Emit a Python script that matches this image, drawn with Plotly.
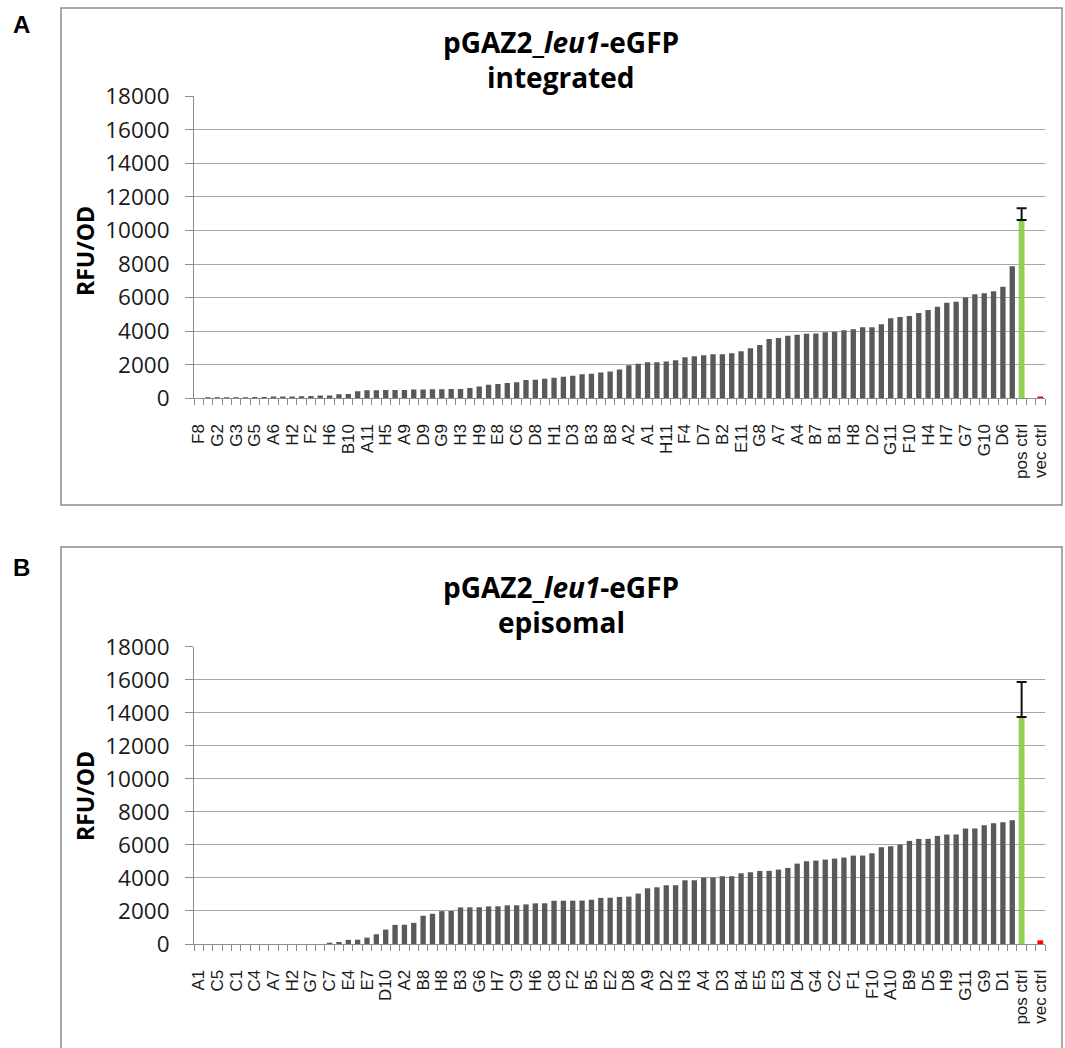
import plotly.graph_objects as go

W, H = 1065, 1048

# ---------------- data ----------------
a_labels = ["F8", "G2", "G3", "G5", "A6", "H2", "F2", "H6", "B10", "A11",
            "H5", "A9", "D9", "G9", "H3", "H9", "E8", "C6", "D8", "H1",
            "D3", "B3", "B8", "A2", "A1", "H11", "F4", "D7", "B2", "E11",
            "G8", "A7", "A4", "B7", "B1", "H8", "D2", "G11", "F10", "H4",
            "H7", "G7", "G10", "D6"]
b_labels = ["A1", "C5", "C1", "C4", "A7", "H2", "G7", "C7", "E4", "E7",
            "D10", "A2", "B8", "H8", "B3", "G6", "H7", "C9", "H6", "C8",
            "F2", "B5", "E2", "D8", "A9", "D2", "H3", "A4", "D3", "B4",
            "E5", "E3", "D4", "G4", "C2", "F1", "F10", "A10", "B9", "D5",
            "H9", "G11", "G9", "D1"]
ctrl_labels = ["pos ctrl", "vec ctrl"]

a_values = [-60, 60, 60, 70, 70, 70, 80, 80, 100, 110,
            110, 120, 130, 160, 170, 240, 250, 420, 480, 480,
            490, 490, 500, 520, 530, 540, 540, 550, 550, 620,
            700, 800, 850, 910, 950, 1090, 1100, 1170, 1230, 1290,
            1350, 1430, 1470, 1530, 1590, 1720, 1970, 2065, 2145, 2150,
            2200, 2264, 2440, 2500, 2560, 2620, 2625, 2680, 2800, 2980,
            3180, 3535, 3595, 3730, 3790, 3850, 3855, 3930, 3970, 4050,
            4110, 4230, 4235, 4410, 4770, 4850, 4900, 5080, 5260, 5460,
            5700, 5760, 6000, 6200, 6260, 6375, 6650, 7865]
b_values = [0, 0, 0, 0, 0, 0, 0, 0, 0, 0,
            0, 0, 0, 0, 60, 120, 250, 260, 385, 590,
            875, 1160, 1165, 1280, 1710, 1830, 1990, 2000, 2215, 2220,
            2225, 2275, 2280, 2340, 2345, 2400, 2460, 2465, 2620, 2620,
            2625, 2630, 2680, 2790, 2800, 2850, 2870, 3050, 3373, 3434,
            3555, 3560, 3858, 3860, 4020, 4025, 4100, 4105, 4282, 4343,
            4424, 4430, 4505, 4606, 4868, 5010, 5050, 5110, 5171, 5232,
            5353, 5355, 5494, 5858, 5919, 6020, 6242, 6363, 6365, 6545,
            6626, 6630, 6990, 6995, 7190, 7312, 7373, 7494]

a_pos_ctrl, a_pos_err, a_vec_ctrl = 10620, 700, 100
b_pos_ctrl, b_pos_err, b_vec_ctrl = 13740, 2120, 220

y_ticks = [0, 2000, 4000, 6000, 8000, 10000, 12000, 14000, 16000, 18000]
y_ticktext = ["0", "2000", "4000", "6000", "8000", "10000", "12000", "14000", "16000", "18000"]

# ---------------- styles ----------------
GRAY = "#595959"
GREEN = "#92D050"
RED = "#FF0000"
AX = "#8c8c8c"
GRID = "#a6a6a6"
TXT = "#1a1a1a"
FONT = "Open Sans"


def px(x):
    return x / W


def py(y):
    return 1 - y / H


fig = go.Figure()

panels = [
    dict(xa="x", ya="y", labels=a_labels, values=a_values, pos=a_pos_ctrl,
         err=a_pos_err, vec=a_vec_ctrl, y0=398.3, y1=96.2),
    dict(xa="x2", ya="y2", labels=b_labels, values=b_values, pos=b_pos_ctrl,
         err=b_pos_err, vec=b_vec_ctrl, y0=944.0, y1=646.7),
]

for k, p in enumerate(panels):
    n = len(p["values"])
    xs = list(range(n))
    pos_x = n
    vec_x = n + 2
    fig.add_trace(go.Bar(x=xs, y=p["values"], marker_color=GRAY, marker_line_width=0,
                         width=0.57, xaxis=p["xa"], yaxis=p["ya"], cliponaxis=False,
                         showlegend=False))
    fig.add_trace(go.Bar(x=[pos_x], y=[p["pos"]], marker_color=GREEN, marker_line_width=0,
                         width=0.62, xaxis=p["xa"], yaxis=p["ya"], showlegend=False,
                         error_y=dict(type="data", symmetric=False, array=[p["err"]],
                                      arrayminus=[0], color="#111", thickness=2, width=5)))
    fig.add_trace(go.Bar(x=[vec_x], y=[p["vec"]], marker_color=RED, marker_line_width=0,
                         width=0.62, xaxis=p["xa"], yaxis=p["ya"], showlegend=False))

    tickvals = list(range(0, n, 2)) + [pos_x, vec_x]
    ticktext = p["labels"] + ctrl_labels
    suffix = "" if k == 0 else "2"
    fig.update_layout(**{
        "xaxis" + suffix: dict(
            domain=[px(194), px(1045)], range=[-0.5, vec_x + 0.5], automargin=False,
            anchor="y" + suffix, tickmode="array", tickvals=tickvals, ticktext=ticktext,
            tickangle=-90, ticks="", showline=True, linecolor=AX, linewidth=1,
            showgrid=False, zeroline=False, ticklabelstandoff=18,
            tickfont=dict(family="Liberation Sans, Arial", size=17, color=TXT),
            minor=dict(tick0=-0.5, dtick=1, ticks="outside", ticklen=6,
                       tickcolor=AX, tickwidth=1, showgrid=False),
        ),
        "yaxis" + suffix: dict(
            domain=[py(p["y0"]), py(p["y1"])], range=[0, 18000], automargin=False,
            anchor="x" + suffix, tickmode="array", tickvals=y_ticks, ticktext=y_ticktext,
            ticks="outside", ticklen=8, tickcolor=AX, showline=True, linecolor=AX,
            linewidth=1, showgrid=True, gridcolor=GRID, gridwidth=1, zeroline=False,
            tickfont=dict(family=FONT, size=22.5, color=TXT), ticklabelstandoff=11,
        ),
    })

# panel frames
fig.add_shape(type="rect", xref="paper", yref="paper", x0=px(61), x1=px(1062),
              y0=py(505), y1=py(8), line=dict(color=AX, width=1.5))
fig.add_shape(type="rect", xref="paper", yref="paper", x0=px(61), x1=px(1062),
              y0=py(1052), y1=py(547), line=dict(color=AX, width=1.5))

ann = []
for letter, yy in [("A", 25), ("B", 567)]:
    ann.append(dict(text="<b>%s</b>" % letter, x=px(21), y=py(yy),
                    font=dict(family="Liberation Sans, Arial", size=24, color="#000")))
for l1, l2, yy in [("pGAZ2_<i>leu1</i>-eGFP", "integrated", 42),
                   ("pGAZ2_<i>leu1</i>-eGFP", "episomal", 587)]:
    ann.append(dict(text="<b>%s</b>" % l1, x=px(561), y=py(yy),
                    font=dict(family=FONT, size=28, color="#000")))
    ann.append(dict(text="<b>%s</b>" % l2, x=px(561), y=py(yy + 35),
                    font=dict(family=FONT, size=28, color="#000")))
for yy in [251, 796]:
    ann.append(dict(text="<b>RFU/OD</b>", x=px(85), y=py(yy), textangle=-90,
                    font=dict(family=FONT, size=23, color="#000")))
for a in ann:
    a.update(xref="paper", yref="paper", showarrow=False, xanchor="center", yanchor="middle")

fig.update_layout(width=W, height=H, margin=dict(l=0, r=0, t=0, b=0, autoexpand=False),
                  paper_bgcolor="white", plot_bgcolor="white", barmode="overlay",
                  annotations=ann, showlegend=False)

fig.write_html("out.html")
